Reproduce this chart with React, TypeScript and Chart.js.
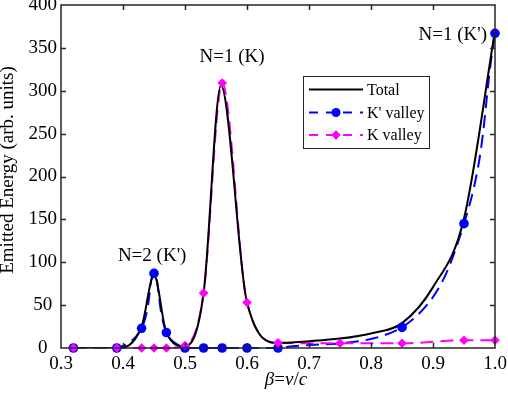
import React, { useEffect, useRef } from 'react';
import { Chart, registerables } from 'chart.js';

Chart.register(...registerables);

// ---- data ----
const betaKp = [0.32, 0.39, 0.43, 0.45, 0.47, 0.5, 0.53, 0.56, 0.6, 0.65, 0.85, 0.95, 1.0];
const kpValley = [0, 0, 23, 87, 18, 0, 0, 0, 0, 0, 24, 145, 367];

const betaK = [0.32, 0.39, 0.43, 0.45, 0.47, 0.5, 0.53, 0.56, 0.6, 0.65, 0.75, 0.85, 0.95, 1.0];
const kValley = [0, 0, 0, 0, 0, 3, 64, 309, 53, 6, 5.5, 5.5, 9, 9];

const betaTotal = [0.32, 0.39, 0.43, 0.45, 0.47, 0.5, 0.53, 0.558, 0.6, 0.65, 0.7, 0.75, 0.8, 0.85, 0.9, 0.95, 1.0];
const totalEnergy = [0, 0, 25, 85, 18, 2, 64, 306, 53, 6, 8, 11, 17, 29, 71, 151, 370];

const xTickValues = [0.3, 0.4, 0.5, 0.6, 0.7, 0.8, 0.9, 1.0];
const yTickValues = [0, 50, 100, 150, 200, 250, 300, 350, 400];

const legendLabels = ['Total', "K' valley", 'K valley'];
const annotationTexts = ["N=2 (K')", 'N=1 (K)', "N=1 (K')"];
const annotationX = [0.447, 0.576, 0.932];
const annotationY = [107, 339, 365];

const yTitle = 'Emitted Energy (arb. units)';

const FAMILY = "'Liberation Serif', 'Times New Roman', serif";
const BLUE = '#0000ff';
const MAGENTA = '#ff00ff';
const AXIS = '#262626';
const FS = 19;

const toXY = (xs: number[], ys: number[]) => xs.map((x, i) => ({ x, y: ys[i] }));

const decorPlugin = {
  id: 'decor',
  afterDraw(chart: any) {
    const { ctx, chartArea: a, scales } = chart;
    const xs = scales.x;
    const ys = scales.y;
    ctx.save();
    // inward ticks
    ctx.strokeStyle = AXIS;
    ctx.lineWidth = 1.5;
    ctx.beginPath();
    xTickValues.slice(1, -1).forEach((v) => {
      const px = Math.round(xs.getPixelForValue(v)) + 0.5;
      ctx.moveTo(px, a.bottom);
      ctx.lineTo(px, a.bottom - 5);
      ctx.moveTo(px, a.top);
      ctx.lineTo(px, a.top + 5);
    });
    yTickValues.slice(1, -1).forEach((v) => {
      const py = Math.round(ys.getPixelForValue(v)) + 0.5;
      ctx.moveTo(a.left, py);
      ctx.lineTo(a.left + 5, py);
      ctx.moveTo(a.right, py);
      ctx.lineTo(a.right - 5, py);
    });
    ctx.stroke();
    // box
    ctx.strokeRect(a.left, a.top, a.right - a.left, a.bottom - a.top);

    // annotations
    ctx.fillStyle = '#000';
    ctx.font = `${FS}px ${FAMILY}`;
    ctx.textAlign = 'center';
    ctx.textBaseline = 'middle';
    annotationTexts.forEach((t, i) => {
      ctx.fillText(t, xs.getPixelForValue(annotationX[i]), ys.getPixelForValue(annotationY[i]));
    });

    // y title
    ctx.save();
    ctx.translate(8, 170);
    ctx.rotate(-Math.PI / 2);
    ctx.textAlign = 'center';
    ctx.textBaseline = 'middle';
    ctx.fillText(yTitle, 0, 0);
    ctx.restore();

    // x title: β=v/c with italics
    const parts = [
      { t: 'β', it: true },
      { t: '=', it: false },
      { t: 'v', it: true },
      { t: '/', it: false },
      { t: 'c', it: true },
    ];
    const fontFor = (it: boolean) => `${it ? 'italic ' : ''}${FS}px ${FAMILY}`;
    let totalW = 0;
    parts.forEach((p) => {
      ctx.font = fontFor(p.it);
      totalW += ctx.measureText(p.t).width;
    });
    let cx = 286 - totalW / 2;
    ctx.textAlign = 'left';
    ctx.textBaseline = 'alphabetic';
    parts.forEach((p) => {
      ctx.font = fontFor(p.it);
      ctx.fillText(p.t, cx, 385);
      cx += ctx.measureText(p.t).width;
    });

    // legend
    const bx = 303, by = 76, bw = 126, bh = 72;
    ctx.fillStyle = '#fff';
    ctx.fillRect(bx, by, bw, bh);
    ctx.strokeStyle = AXIS;
    ctx.lineWidth = 1;
    ctx.strokeRect(bx + 0.5, by + 0.5, bw, bh);
    const rowsY = [89.5, 112.5, 135];
    const colors = ['#000', BLUE, MAGENTA];
    rowsY.forEach((ry, i) => {
      ctx.strokeStyle = colors[i];
      ctx.lineWidth = 2;
      ctx.setLineDash(i === 0 ? [] : [9, 8]);
      ctx.beginPath();
      ctx.moveTo(309, ry);
      ctx.lineTo(363, ry);
      ctx.stroke();
      ctx.setLineDash([]);
      if (i === 1) {
        ctx.fillStyle = BLUE;
        ctx.beginPath();
        ctx.arc(336, ry, 4.5, 0, Math.PI * 2);
        ctx.fill();
      } else if (i === 2) {
        ctx.fillStyle = MAGENTA;
        ctx.beginPath();
        ctx.moveTo(336, ry - 5);
        ctx.lineTo(340.5, ry);
        ctx.lineTo(336, ry + 5);
        ctx.lineTo(331.5, ry);
        ctx.closePath();
        ctx.fill();
      }
      ctx.fillStyle = '#000';
      ctx.font = `16px ${FAMILY}`;
      ctx.textAlign = 'left';
      ctx.textBaseline = 'middle';
      ctx.fillText(legendLabels[i], 367, ry + 1);
    });
    ctx.restore();
  },
};

export default function App() {
  const ref = useRef<HTMLCanvasElement | null>(null);
  useEffect(() => {
    document.body.style.margin = '0';
    const canvas = ref.current;
    if (!canvas) return;
    const font = { family: FAMILY, size: FS };
    const chart = new Chart(canvas, {
      type: 'line',
      data: {
        datasets: [
          {
            label: "K' valley line",
            data: toXY(betaKp, kpValley),
            borderColor: BLUE,
            borderWidth: 2,
            borderDash: [13, 7],
            pointRadius: 0,
            tension: 0.4,
            fill: false,
            clip: false,
            order: 5,
          },
          {
            label: 'K valley line',
            data: toXY(betaK, kValley),
            borderColor: MAGENTA,
            borderWidth: 2,
            borderDash: [13, 7],
            pointRadius: 0,
            cubicInterpolationMode: 'monotone',
            fill: false,
            clip: false,
            order: 4,
          },
          {
            label: 'Total',
            data: toXY(betaTotal, totalEnergy),
            borderColor: '#000',
            borderWidth: 2,
            pointRadius: 0,
            cubicInterpolationMode: 'monotone',
            fill: false,
            order: 3,
          },
          {
            label: "K' valley",
            data: toXY(betaKp, kpValley),
            showLine: false,
            pointStyle: 'circle',
            pointRadius: 4.8,
            pointBackgroundColor: BLUE,
            pointBorderColor: BLUE,
            pointBorderWidth: 0,
            clip: false,
            order: 2,
          },
          {
            label: 'K valley',
            data: toXY(betaK, kValley),
            showLine: false,
            pointStyle: 'rectRot',
            pointRadius: 4.8,
            pointBackgroundColor: MAGENTA,
            pointBorderColor: MAGENTA,
            pointBorderWidth: 0,
            clip: false,
            order: 1,
          },
        ],
      },
      options: {
        animation: false,
        responsive: false,
        devicePixelRatio: 1,
        layout: { padding: { left: 0, right: 13, top: 5, bottom: 0 } },
        plugins: { legend: { display: false }, tooltip: { enabled: false } },
        scales: {
          x: {
            type: 'linear',
            min: 0.3,
            max: 1.0,
            afterBuildTicks: (s: any) => {
              s.ticks = xTickValues.map((v) => ({ value: v }));
            },
            ticks: {
              callback: (v: any) => Number(v).toFixed(1),
              font,
              color: '#000',
              padding: 5,
              maxRotation: 0,
              autoSkip: false,
            },
            grid: { display: false, drawTicks: false },
            border: { display: false },
            afterFit: (s: any) => {
              s.height = 46;
              s.paddingLeft = 0;
              s.paddingRight = 0;
            },
          },
          y: {
            type: 'linear',
            min: 0,
            max: 400,
            afterBuildTicks: (s: any) => {
              s.ticks = yTickValues.map((v) => ({ value: v }));
            },
            ticks: { font, color: '#000', padding: 4, crossAlign: 'center' },
            grid: { display: false, drawTicks: false },
            border: { display: false },
            afterFit: (s: any) => {
              s.width = 61;
              s.paddingTop = 0;
              s.paddingBottom = 0;
            },
          },
        },
      },
      plugins: [decorPlugin],
    } as any);
    return () => chart.destroy();
  }, []);
  return (
    <div style={{ position: 'fixed', left: 0, top: 0, width: 508, height: 394, background: '#fff' }}>
      <canvas ref={ref} width={508} height={394} style={{ display: 'block' }} />
    </div>
  );
}
